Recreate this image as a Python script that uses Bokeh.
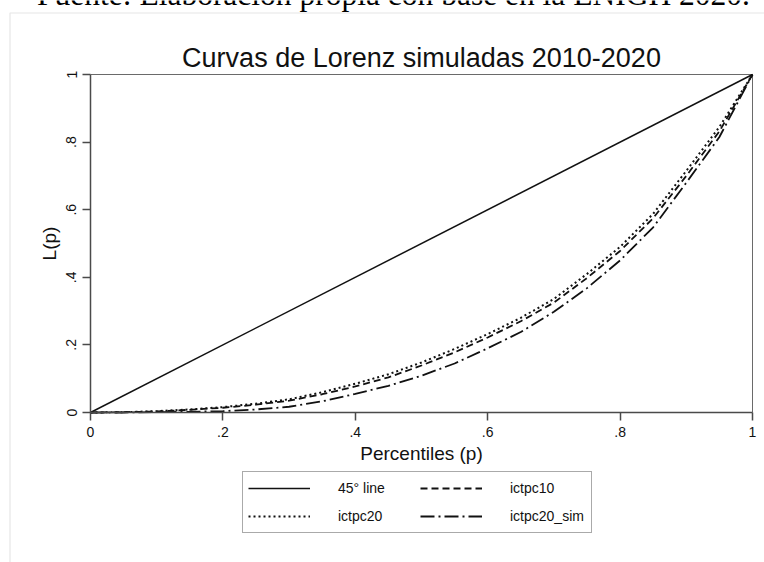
from bokeh.plotting import figure
from bokeh.models import Range1d, FixedTicker, Legend, LegendItem
from bokeh.core.properties import value
from bokeh.embed import file_html
from bokeh.resources import INLINE

# Population share (p) and cumulative income share L(p)
percentiles = [0.0, 0.05, 0.10, 0.15, 0.20, 0.25, 0.30, 0.35, 0.40, 0.45, 0.50,
               0.55, 0.60, 0.65, 0.70, 0.75, 0.80, 0.85, 0.90, 0.95, 1.0]
ictpc10 = [0.0, 0.001, 0.003, 0.008, 0.014, 0.023, 0.035, 0.054, 0.077, 0.104, 0.139,
           0.178, 0.222, 0.270, 0.325, 0.398, 0.478, 0.575, 0.700, 0.832, 1.0]
ictpc20 = [0.0, 0.001, 0.004, 0.009, 0.016, 0.026, 0.039, 0.060, 0.085, 0.113, 0.148,
           0.188, 0.232, 0.280, 0.336, 0.410, 0.490, 0.588, 0.715, 0.845, 1.0]
ictpc20_sim = [0.0, 0.0, 0.001, 0.002, 0.004, 0.009, 0.017, 0.033, 0.055, 0.079, 0.109,
               0.145, 0.190, 0.238, 0.298, 0.368, 0.450, 0.548, 0.680, 0.815, 1.0]
equality_p = [0.0, 1.0]
equality_L = [0.0, 1.0]

tick_values = [0, 0.2, 0.4, 0.6, 0.8, 1]
tick_labels = ["0", ".2", ".4", ".6", ".8", "1"]

title_text = "Curvas de Lorenz simuladas 2010-2020"
source_note = "Fuente: Elaboración propia con base en la ENIGH 2020."

SANS = "Liberation Sans"
INK = "#111111"
AXIS = "#4a4a4a"
FRAME = "#6a6a6a"
EDGE = "#e6e6e6"

W, H = 764, 562
# plotting box in page pixels: p = 0..1 spans x 90..752, L = 0..1 spans y 412..74
X0, X1, Y0, Y1 = 90, 752, 412, 74
sx = X1 - X0
sy = Y0 - Y1


def px(x):
    return (x - X0) / sx


def py(y):
    return (Y0 - y) / sy


p = figure(width=W, height=H, output_backend="svg", toolbar_location=None, title=None,
           x_range=Range1d(px(0), px(W)), y_range=Range1d(py(H), py(0)),
           min_border=0)
p.background_fill_color = "white"
p.border_fill_color = "white"
p.outline_line_color = None
p.xgrid.visible = False
p.ygrid.visible = False

for ax in (p.xaxis[0], p.yaxis[0]):
    ax.fixed_location = 0
    ax.bounds = (0, 1)
    ax.ticker = FixedTicker(ticks=tick_values)
    ax.major_label_overrides = {v: s for v, s in zip(tick_values, tick_labels)}
    ax.minor_tick_line_color = None
    ax.major_tick_in = 0
    ax.major_tick_out = 8
    ax.major_tick_line_color = AXIS
    ax.major_tick_line_width = 1.5
    ax.axis_line_color = AXIS
    ax.axis_line_width = 1.5
    ax.major_label_text_font = SANS
    ax.major_label_text_font_size = "14px"
    ax.major_label_text_color = INK
    ax.major_label_standoff = 6
    ax.axis_label_text_font = SANS
    ax.axis_label_text_font_size = "19px"
    ax.axis_label_text_font_style = "normal"
    ax.axis_label_text_color = INK

p.xaxis.axis_label = "Percentiles (p)"
p.xaxis.axis_label_standoff = 3
p.yaxis.axis_label = "L(p)"
p.yaxis.axis_label_standoff = 4
p.yaxis.major_label_orientation = "vertical"

# top and right sides of the plotting box
p.line([0, 1, 1], [1, 1, 0], line_color=FRAME, line_width=1)

# faint edge of the chart panel and the source line above it
p.line([px(9.5), px(9.5), px(W + 5)], [py(H + 5), py(12.5), py(12.5)],
       line_color=EDGE, line_width=1.2)
p.text(x=[px(393)], y=[py(-6)], text=[source_note], text_font=value("Liberation Serif"),
       text_font_size="31.5px", text_color="#000000",
       text_align="center", text_baseline="alphabetic")
p.text(x=[0.5], y=[py(57)], text=[title_text], text_font=value(SANS),
       text_font_size="27px", text_color=INK,
       text_align="center", text_baseline="alphabetic")

r_eq = p.line(equality_p, equality_L, line_color=INK, line_width=1.5)
r10 = p.line(percentiles, ictpc10, line_color=INK, line_width=1.8, line_dash="7 4")
r20 = p.line(percentiles, ictpc20, line_color=INK, line_width=2, line_dash="2 3")
rsim = p.line(percentiles, ictpc20_sim, line_color=INK, line_width=1.8, line_dash="14 4 2 4")

legend = Legend(items=[
    LegendItem(label="45° line", renderers=[r_eq]),
    LegendItem(label="ictpc10", renderers=[r10]),
    LegendItem(label="ictpc20", renderers=[r20]),
    LegendItem(label="ictpc20_sim", renderers=[rsim]),
], location=(242, H - 533), orientation="horizontal", ncols=2)
legend.label_text_font = SANS
legend.label_text_font_size = "14px"
legend.label_text_color = INK
legend.glyph_width = 62
legend.glyph_height = 22
legend.label_height = 22
legend.label_width = 76
legend.label_standoff = 28
legend.spacing = 6
legend.padding = 5
legend.margin = 0
legend.border_line_color = "#555555"
legend.border_line_width = 1
legend.background_fill_color = "white"
p.add_layout(legend)

open("out.html", "w").write(file_html(p, INLINE))
